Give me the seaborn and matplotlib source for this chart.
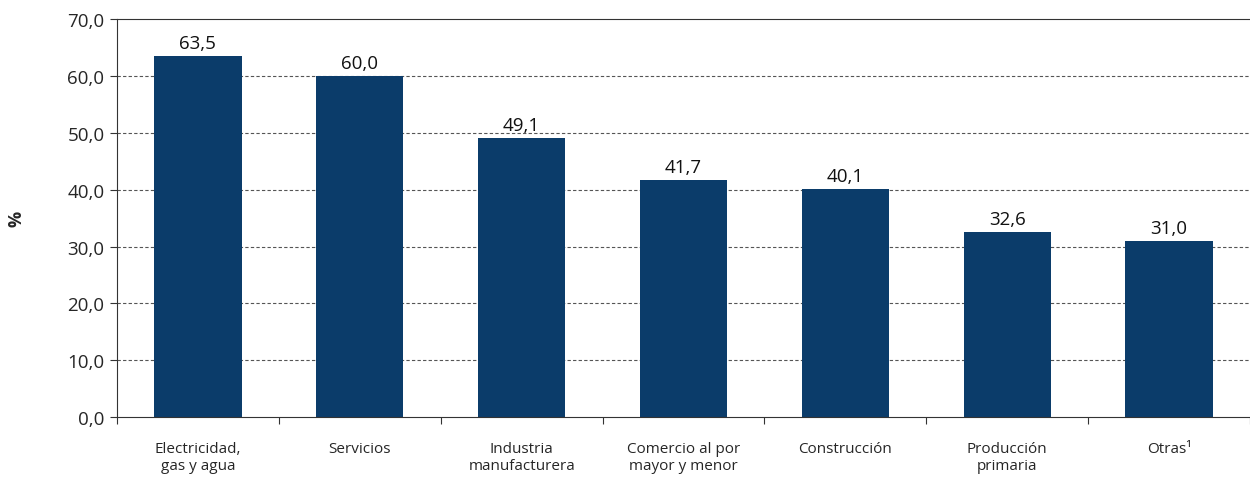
import numpy as np
import pandas as pd
import matplotlib
matplotlib.use('Agg')
import matplotlib.pyplot as plt
import seaborn as sns

categories = ['Electricidad,\ngas y agua', 'Servicios', 'Industria\nmanufacturera',
              'Comercio al por\nmayor y menor', 'Construcción', 'Producción\nprimaria',
              'Otras\u00b9']
values = [63.5, 60.0, 49.1, 41.7, 40.1, 32.6, 31.0]
y_ticks = [0, 10, 20, 30, 40, 50, 60, 70]

bar_color = '#0b3c6a'

sns.set_theme(style='white')
plt.rcParams['font.family'] = ['Liberation Sans Narrow', 'Open Sans', 'DejaVu Sans']

df = pd.DataFrame({'cat': categories, 'val': values})

fig = plt.figure(figsize=(12.5, 4.81), dpi=100)
ax = fig.add_axes([0.0936, 0.131, 0.9064, 0.827])

sns.barplot(data=df, x='cat', y='val', color=bar_color, saturation=1,
            width=0.54, linewidth=0, ax=ax)

def fmt(v):
    return f'{v:.1f}'.replace('.', ',')

for i, v in enumerate(values):
    ax.text(i, v + 0.7, fmt(v), ha='center', va='bottom', fontsize=13.5,
            family=['Open Sans', 'DejaVu Sans'], color='#111111')

ax.set_ylim(0, 70)
ax.set_xlim(-0.5, len(categories) - 0.5)
ax.set_yticks(y_ticks)
ax.set_yticklabels([fmt(t) for t in y_ticks], fontsize=13.5,
                   family=['Open Sans', 'DejaVu Sans'])
for t in y_ticks[1:-1]:
    ax.axhline(t, color='#555555', lw=0.8, ls=(0, (3, 2)), zorder=0)

# category boundaries ticks
ax.set_xticks(np.arange(len(categories) + 1) - 0.5, minor=True)
ax.set_xticks(range(len(categories)))
ax.set_xticklabels(categories, fontsize=11, linespacing=1.2, va='top')
ax.tick_params(axis='x', which='major', length=0, pad=17)
ax.tick_params(axis='x', which='minor', length=5, width=0.8, color='#333333',
               direction='out', bottom=True)
ax.tick_params(axis='y', length=5, width=0.8, color='#333333', direction='out',
               left=True, pad=4)

ax.set_xlabel('')
ax.set_ylabel('%', fontsize=13, fontweight='bold', labelpad=30)

for side in ['left', 'bottom', 'top']:
    ax.spines[side].set_visible(True)
    ax.spines[side].set_color('#333333')
    ax.spines[side].set_linewidth(0.8)
ax.spines['right'].set_visible(False)

fig.savefig('out.png', dpi=100)
plt.close(fig)
